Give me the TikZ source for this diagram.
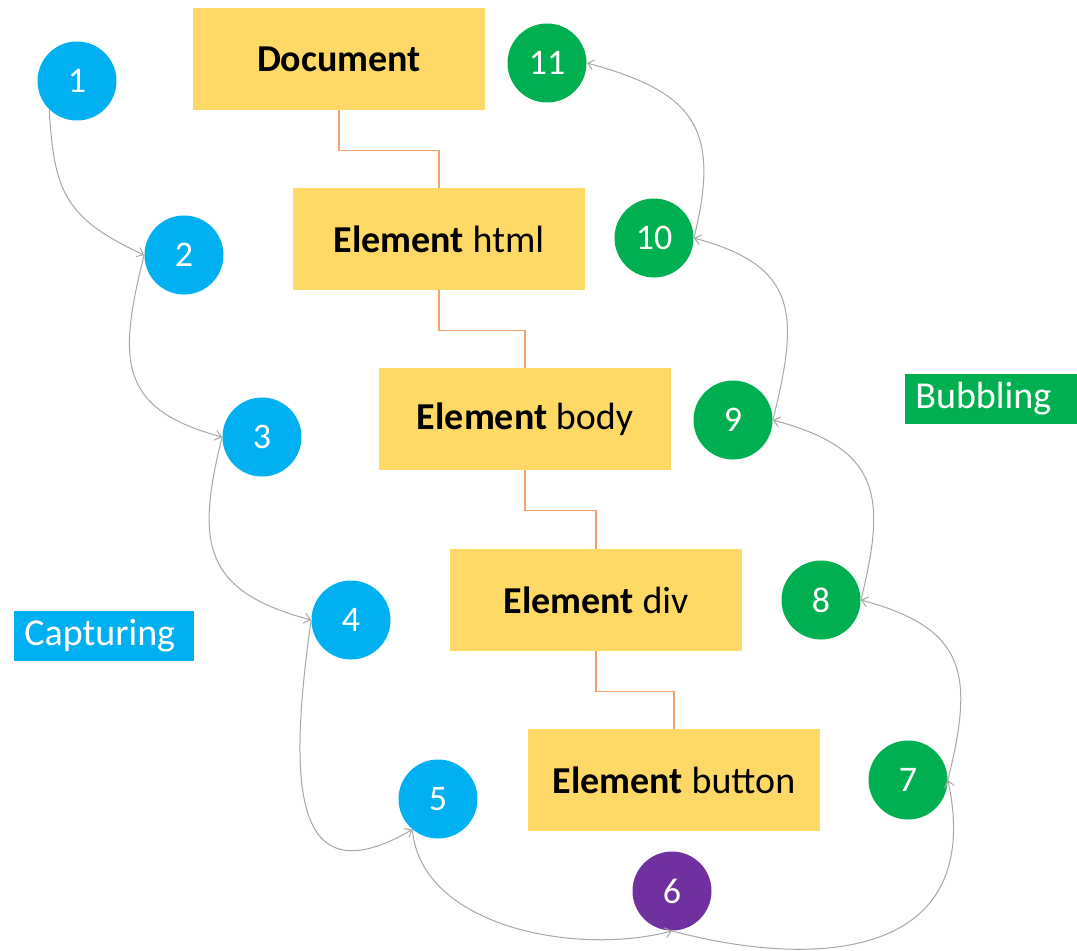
\documentclass[tikz,border=0pt]{standalone}
\usepackage{fontspec}
\setmainfont{Carlito}
\usetikzlibrary{arrows.meta,positioning}
\definecolor{capblue}{HTML}{00B0F0}
\definecolor{bubgreen}{HTML}{00B050}
\definecolor{tgtpurple}{HTML}{7030A0}
\definecolor{boxyellow}{HTML}{FFD966}
\definecolor{linkorange}{HTML}{F4A26B}
\definecolor{flowgray}{HTML}{A6A6A6}

\begin{document}
\begin{tikzpicture}[x=0.5pt,y=-0.5pt]
                \tikzset{Elem/.style={%
                    shape=rectangle,%
                    fill=boxyellow,%
                    minimum width=146pt,%
                    minimum height=51pt,%
                    font=\fontsize{19}{23}\selectfont,%
                }}
                \tikzset{Dot/.style={%
                    shape=circle,%
                    fill=#1,%
                    minimum size=39.5pt,%
                    inner sep=0pt,%
                    text=white,%
                    font=\fontsize{18}{22}\selectfont,%
                }}
                \tikzset{Tag/.style={%
                    fill=#1,%
                    text=white,%
                    anchor=west,%
                    text width=80pt,%
                    inner xsep=5pt,%
                    minimum height=25pt,%
                    font=\fontsize{19}{23}\selectfont,%
                }}
                \tikzset{Link/.style={draw=linkorange, line width=0.6pt}}
                \tikzset{Flow/.style={draw=flowgray, line width=0.5pt,%
                    -{Straight Barb[length=3pt,width=5pt]}, looseness=1.4}}

                \useasboundingbox (0,0) rectangle (1077,950);

                \node[Elem] (e0) at (339,59) {\textbf{Document}};
                \node[Elem] (e1) at (439,239) {\textbf{Element} html};
                \node[Elem] (e2) at (525,419) {\textbf{Element} body};
                \node[Elem] (e3) at (596,600) {\textbf{Element} div};
                \node[Elem] (e4) at (674,780) {\textbf{Element} button};

                \draw[Link] (e0.south) -- ++(0,40) -| (e1.north);
                \draw[Link] (e1.south) -- ++(0,40) -| (e2.north);
                \draw[Link] (e2.south) -- ++(0,40) -| (e3.north);
                \draw[Link] (e3.south) -- ++(0,40) -| (e4.north);

                \node[Dot=capblue] (c1) at (77,81) {1};
                \node[Dot=capblue] (c2) at (184,255) {2};
                \node[Dot=capblue] (c3) at (262,437) {3};
                \node[Dot=capblue] (c4) at (351,620) {4};
                \node[Dot=capblue] (c5) at (438,799) {5};
                \node[Dot=tgtpurple] (c6) at (672,891) {6};
                \node[Dot=bubgreen] (c7) at (908,780) {7};
                \node[Dot=bubgreen] (c8) at (821,600) {8};
                \node[Dot=bubgreen] (c9) at (733,420) {9};
                \node[Dot=bubgreen] (c10) at (654,238) {10};
                \node[Dot=bubgreen] (c11) at (547,63) {11};

                \node[Tag=capblue] (cap) at (14,636) {Capturing};
                \node[Tag=bubgreen] (bub) at (905,399) {Bubbling};

                \path (c1.226) edge[Flow, out=273, in=155, looseness=1.25] (c2.west);
                \path (c2.west) edge[Flow, out=256, in=165] (c3.west);
                \path (c3.west) edge[Flow, out=256, in=165] (c4.west);
                \path (c4.west) edge[Flow, out=262, in=210, out looseness=1.9, in looseness=1.5] (c5.230);
                \path (c5.230) edge[Flow, out=275, in=195, looseness=0.9] (c6.south);
                \path (c6.south) edge[Flow, out=345, in=282, out looseness=1.2, in looseness=1.5] (c7.east);
                \path (c7.east) edge[Flow, out=76, in=345] (c8.east);
                \path (c8.east) edge[Flow, out=76, in=345] (c9.east);
                \path (c9.east) edge[Flow, out=76, in=345] (c10.east);
                \path (c10.east) edge[Flow, out=76, in=345] (c11.east);
\end{tikzpicture}
\end{document}
